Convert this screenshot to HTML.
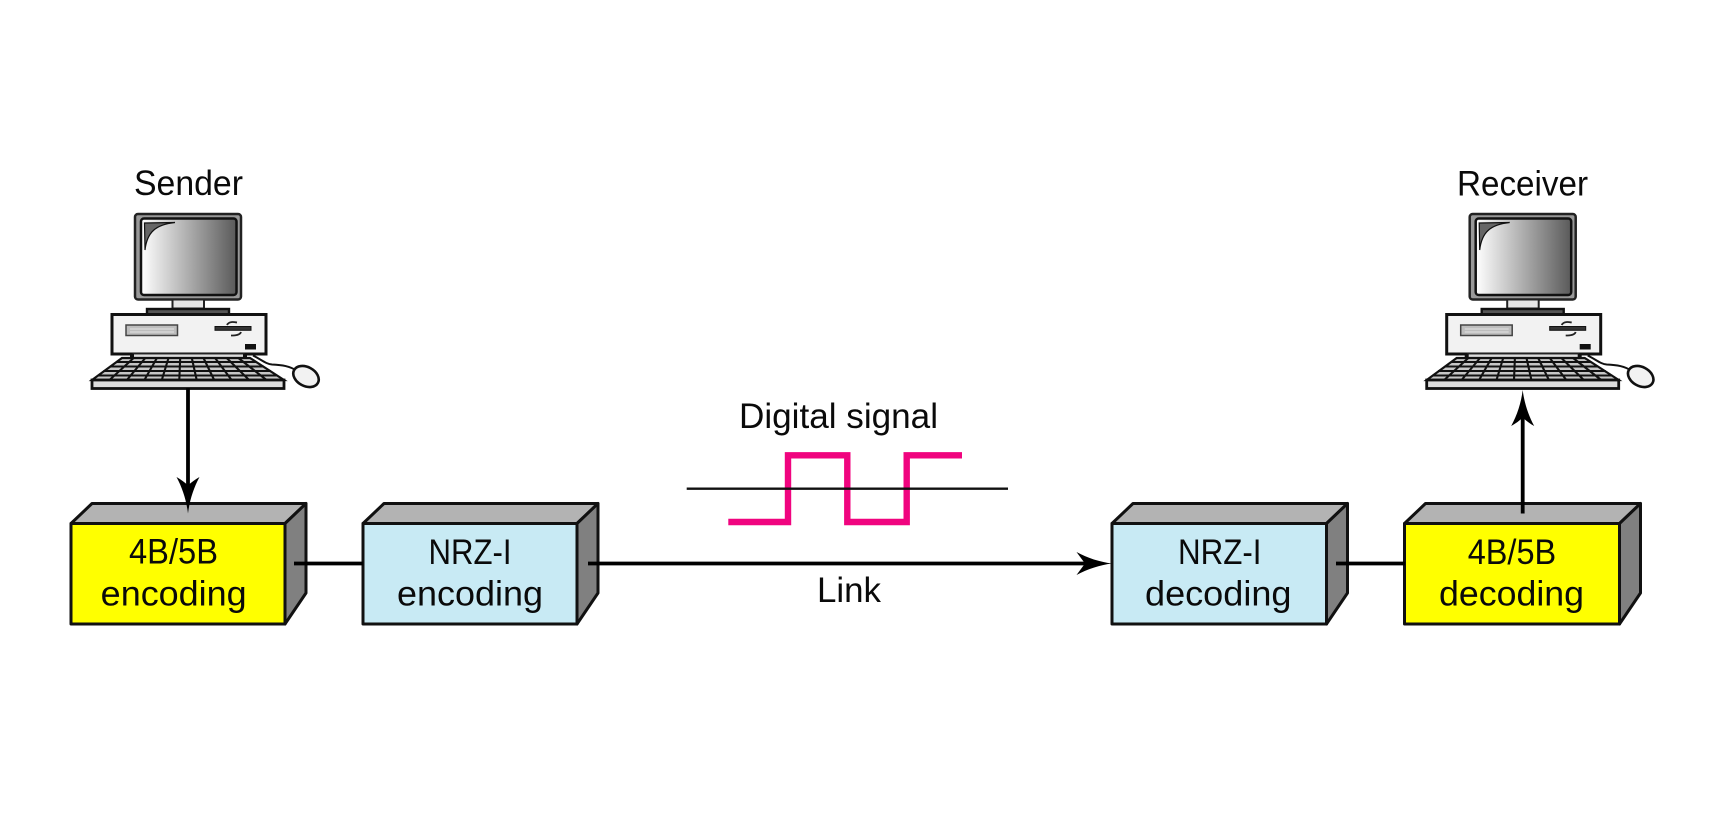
<!DOCTYPE html>
<html>
<head>
<meta charset="utf-8">
<style>
html,body{margin:0;padding:0;background:#fff;width:1710px;height:832px;overflow:hidden}
svg{display:block}
text{font-family:"Liberation Sans",sans-serif;font-size:35px;fill:#0a0a0a}
.f{stroke:#111;stroke-width:3;stroke-linejoin:round}
</style>
</head>
<body>
<svg width="1710" height="832" viewBox="0 0 1710 832" xmlns="http://www.w3.org/2000/svg">
<defs>
<linearGradient id="scr" x1="0" x2="1" y1="0" y2="0"><stop offset="0" stop-color="#fff"/><stop offset="1" stop-color="#5a5a5a"/></linearGradient>
<g id="pc">
<path d="M253 355.500C262 360 266 364 272 364.500C282 365 290 366 297 371" fill="none" stroke="#111" stroke-width="2"/>
<ellipse cx="306" cy="376.500" rx="13.500" ry="9.500" transform="rotate(28 306 376.500)" fill="#f2f2f2" stroke="#111" stroke-width="2.600"/>
<rect x="135" y="214" width="106" height="85.500" rx="3" fill="#999" stroke="#222" stroke-width="2.500"/>
<rect x="141" y="218.500" width="95.500" height="76.500" rx="3" fill="url(#scr)" stroke="#111" stroke-width="2.500"/>
<path d="M144.500 223L175 222.500C156 224.500 147 232 145 250Z" fill="#666" stroke="#111" stroke-width="1.200"/>
<rect x="172.500" y="299.500" width="31.500" height="9" fill="#e6e6e6" stroke="#222" stroke-width="2"/>
<rect x="147" y="309" width="82" height="5.500" fill="#555" stroke="#111" stroke-width="2.400"/>
<rect x="112" y="314.500" width="154" height="39.500" fill="#f2f2f2" stroke="#111" stroke-width="3"/>
<rect x="126" y="325" width="51.500" height="10.500" fill="#bdbdbd" stroke="#444" stroke-width="1.500"/>
<path d="M130 329H174M130 332H174" stroke="#eee" stroke-width=".8"/>
<rect x="215" y="326.500" width="36" height="3.800" fill="#333" stroke="#111" stroke-width="1"/>
<path d="M227 325C229 321 234 322 237 322.500M241 332C240 335 236 335.500 231 335.500" fill="none" stroke="#222" stroke-width="1.800"/>
<rect x="245" y="344" width="11" height="5.500" fill="#111"/>
<rect x="133" y="354" width="111" height="4.500" fill="#ddd" stroke="#333" stroke-width="1"/>
<rect x="130" y="354" width="4" height="5" fill="#111"/>
<rect x="243" y="354" width="4" height="5" fill="#111"/>
<path d="M122 358H250L284 380H92Z" fill="#c6c6c6" stroke="#111" stroke-width="2.200"/>
<path d="M133.600 358L109.500 380M145.300 358L126.900 380M156.900 358L144.400 380M168.500 358L161.800 380M180.200 358L179.300 380M191.800 358L196.700 380M203.500 358L214.200 380M215.100 358L231.600 380M226.700 358L249.100 380M238.400 358L266.500 380M116.300 362H256.500M109.900 366.500H263.800M103.400 371H271M97.700 375.500H277.500" fill="none" stroke="#111" stroke-width="2.100"/>
<rect x="92" y="380" width="192" height="8.500" fill="#ddd" stroke="#111" stroke-width="2.800"/>
</g>
</defs>

<use href="#pc"/>
<use href="#pc" x="1334.700"/>

<!-- Box 1 -->
<path class="f" d="M71 523.500L92 503.500H306L285 523.500Z" fill="#b3b3b3"/>
<path class="f" d="M285 523.500L306 503.500V593L285 624Z" fill="#808080"/>
<rect class="f" x="71" y="523.500" width="214" height="100.500" fill="#ffff00"/>
<!-- Box 2 -->
<path class="f" d="M363 523.500L384 503.500H598L577 523.500Z" fill="#b3b3b3"/>
<path class="f" d="M577 523.500L598 503.500V593L577 624Z" fill="#808080"/>
<rect class="f" x="363" y="523.500" width="214" height="100.500" fill="#c8eaf4"/>
<!-- Box 3 -->
<path class="f" d="M1112 523.500L1133 503.500H1347.500L1326.500 523.500Z" fill="#b3b3b3"/>
<path class="f" d="M1326.500 523.500L1347.500 503.500V593L1326.500 624Z" fill="#808080"/>
<rect class="f" x="1112" y="523.500" width="214.500" height="100.500" fill="#c8eaf4"/>
<!-- Box 4 -->
<path class="f" d="M1404.500 523.500L1425.500 503.500H1640.500L1619.500 523.500Z" fill="#b3b3b3"/>
<path class="f" d="M1619.500 523.500L1640.500 503.500V593L1619.500 624Z" fill="#808080"/>
<rect class="f" x="1404.500" y="523.500" width="215" height="100.500" fill="#ffff00"/>

<!-- Connectors -->
<g stroke="#000" stroke-width="3.800" fill="none">
<path d="M188 388V490"/>
<path d="M294 563.500H363"/>
<path d="M588 563.500H1090"/>
<path d="M1336 563.500H1405"/>
<path d="M1522.700 513.500V410"/>
</g>
<g fill="#000">
<path d="M188 513.500C186.500 501 182.500 488 176.500 477C181 479.500 185 482.500 188 485.500C191 482.500 195 479.500 199.500 477C193.500 488 189.500 501 188 513.500Z"/>
<path d="M1522.700 390C1521.200 402.500 1517.200 415 1511.200 426C1515.700 423.500 1519.700 420.500 1522.700 417.500C1525.700 420.500 1529.700 423.500 1534.200 426C1528.200 415 1524.200 402.500 1522.700 390Z"/>
<path d="M1112 563.500C1100 562 1087.500 558 1076.500 552C1079 555.500 1082.500 560 1085 563.500C1082.500 567 1079 571.500 1076.500 575C1087.500 569 1100 565 1112 563.500Z"/>
</g>

<!-- Signal -->
<path d="M728.300 522H788V455.300H847.300V522H906.700V455.300H962" fill="none" stroke="#f0047f" stroke-width="6.400" stroke-linejoin="miter"/>
<path d="M686.700 488.700H1008" stroke="#111" stroke-width="2.400"/>

<!-- Labels -->
<text x="134" y="195" textLength="109" lengthAdjust="spacingAndGlyphs">Sender</text>
<text x="1457" y="195.500" textLength="131" lengthAdjust="spacingAndGlyphs">Receiver</text>
<text x="739" y="428" textLength="199" lengthAdjust="spacingAndGlyphs">Digital signal</text>
<text x="817" y="602" textLength="64" lengthAdjust="spacingAndGlyphs">Link</text>
<text x="129" y="563.500" textLength="89" lengthAdjust="spacingAndGlyphs">4B/5B</text>
<text x="100.700" y="605.700" textLength="146" lengthAdjust="spacingAndGlyphs">encoding</text>
<text x="428.500" y="564" textLength="83" lengthAdjust="spacingAndGlyphs">NRZ-I</text>
<text x="397" y="605.700" textLength="146" lengthAdjust="spacingAndGlyphs">encoding</text>
<text x="1178" y="564" textLength="83.500" lengthAdjust="spacingAndGlyphs">NRZ-I</text>
<text x="1145" y="605.700" textLength="146.500" lengthAdjust="spacingAndGlyphs">decoding</text>
<text x="1467.700" y="564" textLength="88.500" lengthAdjust="spacingAndGlyphs">4B/5B</text>
<text x="1439" y="605.700" textLength="145" lengthAdjust="spacingAndGlyphs">decoding</text>
</svg>
</body>
</html>
